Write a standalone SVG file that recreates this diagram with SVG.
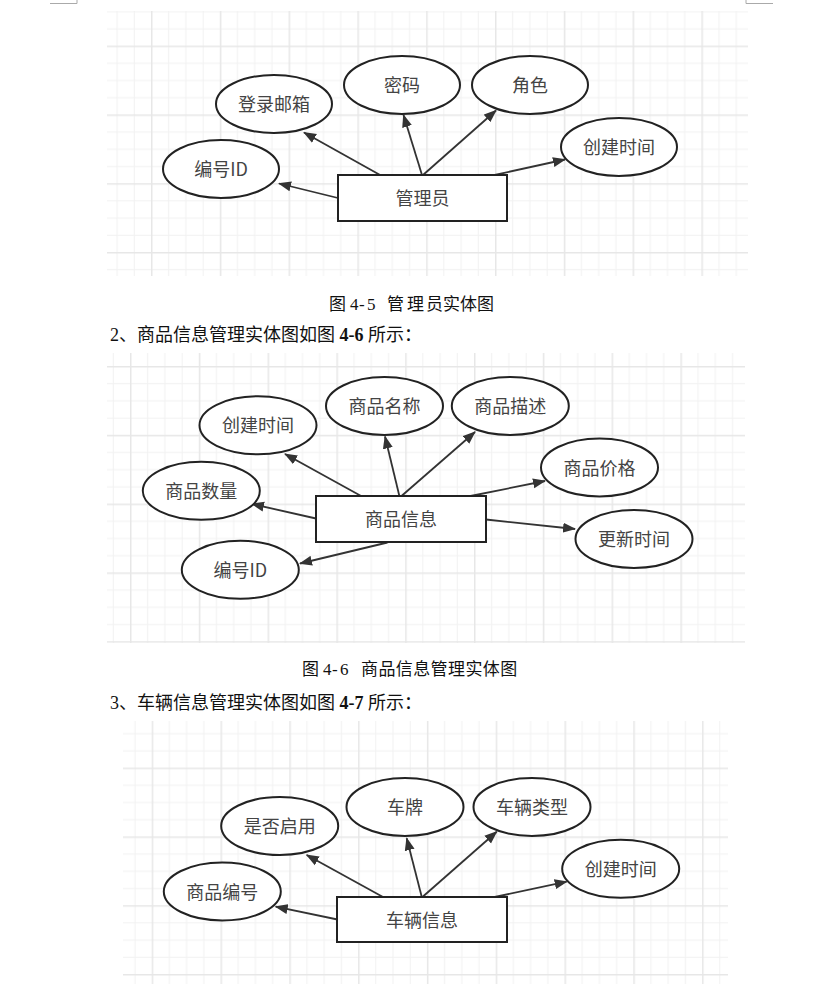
<svg xmlns="http://www.w3.org/2000/svg" width="829" height="984" viewBox="0 0 829 984">
<style>
.ell{fill:#fff;stroke:#222;stroke-width:2}
.box{fill:#fff;stroke:#222;stroke-width:2}
.lbl{font-family:"Noto Sans CJK SC","Noto Sans",sans-serif;font-size:18px;fill:#444;text-anchor:middle}
.edge{stroke:#333;stroke-width:1.8;fill:none;marker-end:url(#arr)}
.cap{font-family:"Liberation Serif","Noto Sans CJK SC",serif;font-size:17px;fill:#111}
.para{font-family:"Liberation Serif","Noto Sans CJK SC",serif;font-size:18px;fill:#111}
.mark{stroke:#aaa;stroke-width:1;fill:none}
</style>
<defs>
<marker id="arr" markerUnits="userSpaceOnUse" markerWidth="13" markerHeight="11" viewBox="0 0 13 10" refX="12" refY="5" orient="auto">
<path d="M0,0 L13,5 L0,10 Z" fill="#333"/>
</marker>
<g id="gridcell">
<rect x="17.2" y="0" width="1" height="68.8" fill="#f1f1f1"/>
<rect x="34.4" y="0" width="1" height="68.8" fill="#f1f1f1"/>
<rect x="51.6" y="0" width="1" height="68.8" fill="#f1f1f1"/>
<rect x="0" y="17.2" width="68.8" height="1" fill="#f1f1f1"/>
<rect x="0" y="34.4" width="68.8" height="1" fill="#f1f1f1"/>
<rect x="0" y="51.6" width="68.8" height="1" fill="#f1f1f1"/>
<rect x="0" y="0" width="1.5" height="68.8" fill="#e7e7e7"/>
<rect x="0" y="0" width="68.8" height="1.5" fill="#e7e7e7"/>
</g>
<pattern id="g1" patternUnits="userSpaceOnUse" x="151" y="45.6" width="68.8" height="68.8"><use href="#gridcell"/></pattern>
<pattern id="g2" patternUnits="userSpaceOnUse" x="130" y="366" width="68.8" height="68.8"><use href="#gridcell"/></pattern>
<pattern id="g3" patternUnits="userSpaceOnUse" x="151.7" y="767.6" width="68.8" height="68.8"><use href="#gridcell"/></pattern>
</defs>
<rect width="829" height="984" fill="#fff"/>
<path class="mark" d="M50,3.5 H77 V0 M746,0 V3.5 H773"/>
<rect x="107" y="11" width="641" height="265" fill="url(#g1)"/>
<rect x="107" y="353" width="638" height="290" fill="url(#g2)"/>
<rect x="123" y="721" width="605" height="263" fill="url(#g3)"/>

<g id="connectors">
<line class="edge" x1="338" y1="198" x2="279" y2="183.5"/>
<line class="edge" x1="381" y1="175.5" x2="304" y2="132.5"/>
<line class="edge" x1="422" y1="175" x2="403.5" y2="115"/>
<line class="edge" x1="423" y1="175" x2="496" y2="110.5"/>
<line class="edge" x1="490" y1="176" x2="565" y2="159.5"/>

<line class="edge" x1="362" y1="496.5" x2="285" y2="454"/>
<line class="edge" x1="399.5" y1="496.5" x2="385" y2="436.5"/>
<line class="edge" x1="401.5" y1="496" x2="475" y2="432"/>
<line class="edge" x1="468" y1="496.5" x2="545" y2="481"/>
<line class="edge" x1="486" y1="519.5" x2="575" y2="529"/>
<line class="edge" x1="316" y1="518.5" x2="252" y2="504"/>
<line class="edge" x1="387.5" y1="542.5" x2="300" y2="563.5"/>

<line class="edge" x1="383" y1="897" x2="306.7" y2="855"/>
<line class="edge" x1="337.5" y1="919.5" x2="275.7" y2="906.7"/>
<line class="edge" x1="421.7" y1="896.7" x2="406.7" y2="838.3"/>
<line class="edge" x1="422.7" y1="896.7" x2="496.7" y2="831.7"/>
<line class="edge" x1="490" y1="898" x2="566.7" y2="881.7"/>
</g>

<g id="d1-bianhao"><ellipse class="ell" cx="221" cy="169" rx="58" ry="29"/><text class="lbl" x="221" y="176">编号ID</text></g>
<g id="d1-denglu"><ellipse class="ell" cx="274" cy="104" rx="58" ry="29"/><text class="lbl" x="274" y="111">登录邮箱</text></g>
<g id="d1-mima"><ellipse class="ell" cx="402" cy="85" rx="58" ry="29"/><text class="lbl" x="402" y="92">密码</text></g>
<g id="d1-juese"><ellipse class="ell" cx="530" cy="85" rx="58" ry="29"/><text class="lbl" x="530" y="92">角色</text></g>
<g id="d1-chuangjian"><ellipse class="ell" cx="619" cy="147" rx="58" ry="29"/><text class="lbl" x="619" y="154">创建时间</text></g>
<g id="d1-admin"><rect class="box" x="338" y="175" width="169" height="46"/><text class="lbl" x="422.5" y="205">管理员</text></g>

<g id="cap1"><text class="cap" y="309.5" x="329 346 350 359 367 374 387 407 426 443 460 477">图 4-5 管理员实体图</text></g>
<g id="para2"><text class="para" x="110" y="340.5">2、商品信息管理实体图如图 <tspan font-weight="bold">4-6</tspan> 所示：</text></g>

<g id="d2-chuangjian"><ellipse class="ell" cx="258" cy="425.3" rx="58.5" ry="29"/><text class="lbl" x="258" y="432.3">创建时间</text></g>
<g id="d2-mingcheng"><ellipse class="ell" cx="384.5" cy="406" rx="58.5" ry="29"/><text class="lbl" x="384.5" y="413">商品名称</text></g>
<g id="d2-miaoshu"><ellipse class="ell" cx="510.3" cy="406" rx="58.5" ry="29"/><text class="lbl" x="510.3" y="413">商品描述</text></g>
<g id="d2-jiage"><ellipse class="ell" cx="599.5" cy="467.5" rx="58.5" ry="29"/><text class="lbl" x="599.5" y="474.5">商品价格</text></g>
<g id="d2-gengxin"><ellipse class="ell" cx="634" cy="539" rx="58.5" ry="29"/><text class="lbl" x="634" y="546">更新时间</text></g>
<g id="d2-shuliang"><ellipse class="ell" cx="201.3" cy="490.8" rx="58.5" ry="29"/><text class="lbl" x="201.3" y="497.8">商品数量</text></g>
<g id="d2-bianhao"><ellipse class="ell" cx="240.3" cy="569.8" rx="58.5" ry="29"/><text class="lbl" x="240.3" y="576.8">编号ID</text></g>
<g id="d2-goods"><rect class="box" x="316" y="496" width="170" height="46"/><text class="lbl" x="401" y="526">商品信息</text></g>

<g id="cap2"><text class="cap" y="674.5" x="302 319 323 332 340 348 361 378.4 395.8 413.2 430.6 448 465.4 482.8 500.2">图 4-6 商品信息管理实体图</text></g>
<g id="para3"><text class="para" x="110" y="708.5">3、车辆信息管理实体图如图 <tspan font-weight="bold">4-7</tspan> 所示：</text></g>

<g id="d3-qiyong"><ellipse class="ell" cx="279.7" cy="826" rx="58.5" ry="29"/><text class="lbl" x="279.7" y="833">是否启用</text></g>
<g id="d3-bianhao"><ellipse class="ell" cx="222.3" cy="891.5" rx="58.5" ry="29"/><text class="lbl" x="222.3" y="898.5">商品编号</text></g>
<g id="d3-chepai"><ellipse class="ell" cx="405" cy="807" rx="58.5" ry="29"/><text class="lbl" x="405" y="814">车牌</text></g>
<g id="d3-leixing"><ellipse class="ell" cx="532" cy="807" rx="58.5" ry="29"/><text class="lbl" x="532" y="814">车辆类型</text></g>
<g id="d3-chuangjian"><ellipse class="ell" cx="620.7" cy="868.8" rx="58.5" ry="29"/><text class="lbl" x="620.7" y="875.8">创建时间</text></g>
<g id="d3-vehicle"><rect class="box" x="337" y="897" width="170" height="45"/><text class="lbl" x="422" y="926.5">车辆信息</text></g>
</svg>
